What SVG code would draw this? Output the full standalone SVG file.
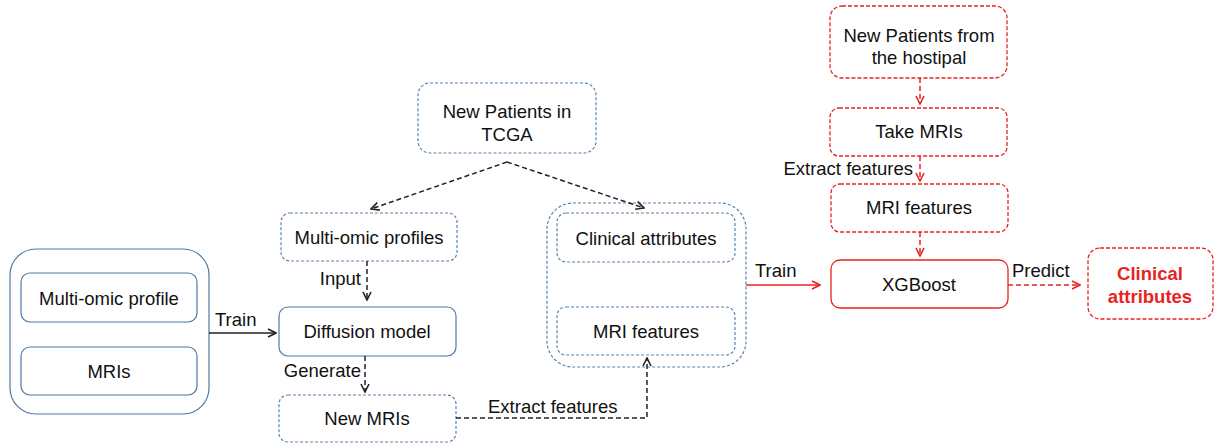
<svg xmlns="http://www.w3.org/2000/svg" width="1220" height="444" viewBox="0 0 1220 444">
<defs>
<style>
.t{font-family:"Liberation Sans",Arial,sans-serif;font-size:18.5px;fill:#111;}
.c{text-anchor:middle;}
.e{text-anchor:end;}
.bs{fill:none;stroke:#4f79a6;stroke-width:1.2;}
.bd{fill:none;stroke:#5a84ad;stroke-width:1.2;stroke-dasharray:3 2;}
.rs{fill:none;stroke:#e8231f;stroke-width:1.3;}
.rd{fill:none;stroke:#e8231f;stroke-width:1.3;stroke-dasharray:4 2;}
.ks{fill:none;stroke:#222;stroke-width:1.5;}
.kd{fill:none;stroke:#222;stroke-width:1.5;stroke-dasharray:5 3;}
.rl{fill:none;stroke:#e8231f;stroke-width:1.5;}
.rld{fill:none;stroke:#e8231f;stroke-width:1.5;stroke-dasharray:5 3;}
.red{fill:#e8231f;font-weight:bold;}
</style>
<marker id="ak" viewBox="0 0 10 10" refX="9" refY="5" markerWidth="10" markerHeight="10" markerUnits="userSpaceOnUse" orient="auto">
<path d="M1,1 L9,5 L1,9" fill="none" stroke="#222" stroke-width="1.6"/>
</marker>
<marker id="ar" viewBox="0 0 10 10" refX="9" refY="5" markerWidth="10" markerHeight="10" markerUnits="userSpaceOnUse" orient="auto">
<path d="M1,1 L9,5 L1,9" fill="none" stroke="#e8231f" stroke-width="1.6"/>
</marker>
</defs>
<rect width="1220" height="444" fill="#fff"/>

<g id="training-data">
<rect class="bs" x="10" y="249" width="199" height="165" rx="26"/>
<rect class="bs" x="21" y="273" width="176" height="49" rx="9"/>
<text class="t c" x="109" y="305">Multi-omic profile</text>
<rect class="bs" x="21" y="347" width="176" height="48" rx="9"/>
<text class="t c" x="109" y="378">MRIs</text>
</g>

<g id="new-patients-tcga">
<rect class="bd" x="418" y="83" width="178" height="70" rx="12"/>
<text class="t c" x="507" y="118">New Patients in</text>
<text class="t c" x="507" y="141">TCGA</text>
</g>

<g id="multi-omic-profiles">
<rect class="bd" x="281" y="213" width="176" height="48" rx="9"/>
<text class="t c" x="369" y="244">Multi-omic profiles</text>
</g>

<g id="diffusion-model">
<rect class="bs" x="279" y="307" width="177" height="49" rx="9"/>
<text class="t c" x="367" y="338">Diffusion model</text>
</g>

<g id="new-mris">
<rect class="bd" x="279" y="395" width="177" height="47" rx="9"/>
<text class="t c" x="367" y="425">New MRIs</text>
</g>

<g id="tcga-container">
<rect class="bd" x="547" y="203" width="199" height="164" rx="26"/>
<rect class="bd" x="557" y="213" width="178" height="49" rx="9"/>
<text class="t c" x="646" y="245">Clinical attributes</text>
<rect class="bd" x="557" y="307" width="178" height="48" rx="9"/>
<text class="t c" x="646" y="338">MRI features</text>
</g>

<g id="new-patients-hospital">
<rect class="rd" x="830" y="6" width="177" height="72" rx="12"/>
<text class="t c" x="919" y="42">New Patients from</text>
<text class="t c" x="919" y="64">the hostipal</text>
</g>

<g id="take-mris">
<rect class="rd" x="830" y="108" width="177" height="48" rx="9"/>
<text class="t c" x="919" y="138">Take MRIs</text>
</g>

<g id="mri-features-red">
<rect class="rd" x="831" y="184" width="177" height="48" rx="9"/>
<text class="t c" x="919" y="214">MRI features</text>
</g>

<g id="xgboost">
<rect class="rs" x="831" y="260" width="177" height="48" rx="9"/>
<text class="t c" x="919" y="291">XGBoost</text>
</g>

<g id="clinical-attributes-red">
<rect class="rd" x="1088" y="248" width="125" height="71" rx="12"/>
<text class="t c red" x="1150" y="280">Clinical</text>
<text class="t c red" x="1150" y="303">attributes</text>
</g>

<g id="connectors">
<path class="ks" d="M209,333 L276,333" marker-end="url(#ak)"/>
<text class="t" x="215" y="326">Train</text>
<path class="kd" d="M507,162 L371,209" marker-end="url(#ak)"/>
<path class="kd" d="M507,162 L644,208" marker-end="url(#ak)"/>
<path class="kd" d="M367,261 L367,300" marker-end="url(#ak)"/>
<text class="t e" x="361" y="285">Input</text>
<path class="kd" d="M365,356 L365,392" marker-end="url(#ak)"/>
<text class="t e" x="361" y="377">Generate</text>
<path class="kd" d="M456,418 L647,418 L647,358" marker-end="url(#ak)"/>
<text class="t" x="488" y="413">Extract features</text>
<path class="rl" d="M746,285 L820,285" marker-end="url(#ar)"/>
<text class="t" x="755" y="277">Train</text>
<path class="rld" d="M920,78 L920,104" marker-end="url(#ar)"/>
<path class="rld" d="M920,156 L920,181" marker-end="url(#ar)"/>
<text class="t e" x="913" y="175">Extract features</text>
<path class="rld" d="M920,232 L920,256" marker-end="url(#ar)"/>
<path class="rld" d="M1008,285 L1080,285" marker-end="url(#ar)"/>
<text class="t" x="1012" y="277">Predict</text>
</g>
</svg>
